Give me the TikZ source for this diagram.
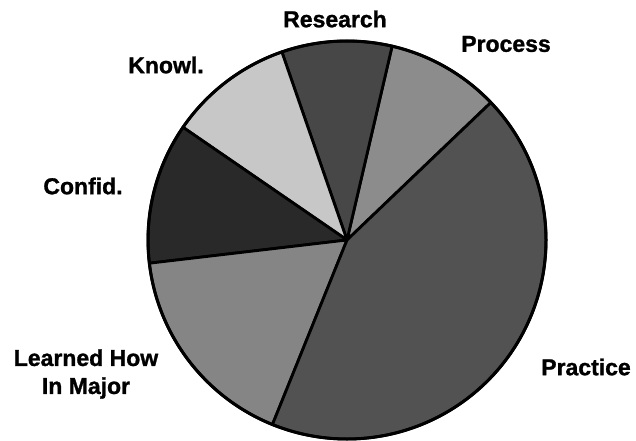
\documentclass[tikz,border=0pt]{standalone}
\usepackage{fontspec}
\setmainfont{Liberation Sans}[BoldFeatures={FakeBold=1.2}]
\begin{document}
\begin{tikzpicture}[x=1pt,y=1pt,
  lbl/.style={font=\bfseries\fontsize{23}{28}\selectfont, inner sep=0pt, align=center},
  slice/.style={draw=black, line width=2.8pt, line join=round}]
\useasboundingbox (0,0) rectangle (636,440);
\fill[white] (0,0) rectangle (636,440);
\coordinate (c) at (347,200);
\def\R{199}
% slices
\filldraw[slice, fill=black!45] (c) -- ++(43.7:\R) arc[start angle=43.7, end angle=76.9, radius=\R] -- cycle; % Process
\filldraw[slice, fill=black!72] (c) -- ++(76.9:\R) arc[start angle=76.9, end angle=109.1, radius=\R] -- cycle; % Research
\filldraw[slice, fill=black!22] (c) -- ++(109.1:\R) arc[start angle=109.1, end angle=145.5, radius=\R] -- cycle; % Knowl
\filldraw[slice, fill=black!84] (c) -- ++(145.5:\R) arc[start angle=145.5, end angle=186.7, radius=\R] -- cycle; % Confid
\filldraw[slice, fill=black!48] (c) -- ++(186.7:\R) arc[start angle=186.7, end angle=248, radius=\R] -- cycle; % Learned
\filldraw[slice, fill=black!68] (c) -- ++(248:\R) arc[start angle=248, end angle=403.7, radius=\R] -- cycle; % Practice
\draw[line width=3pt] (c) circle[radius=\R];
% labels
\node[lbl] (research) at (335,421) {Research};
\node[lbl] (process) at (506,396) {Process};
\node[lbl] (knowl) at (166,375) {Knowl.};
\node[lbl] (confid) at (83,254) {Confid.};
\node[lbl] (learned) at (86,66) {Learned How\\In Major};
\node[lbl] (practice) at (586,73) {Practice};
\end{tikzpicture}
\end{document}
